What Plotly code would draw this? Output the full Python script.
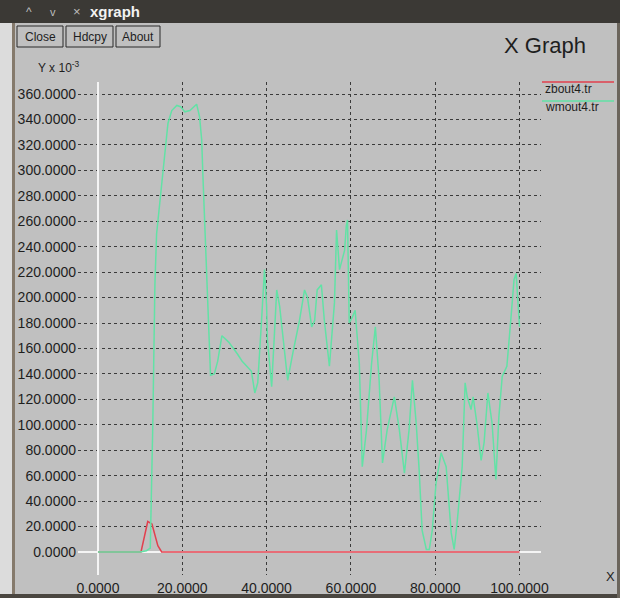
import plotly.graph_objects as go

# ---------------- data ----------------
red_x = [0, 10.0, 10.2, 11.0, 11.8, 12.8, 13.6, 14.2, 15.1, 100]
red_y = [0, 0, 0, 12, 24, 22, 12, 5, 0, 0]

green_x = [0, 10, 11.5, 12.4, 13.0, 13.5, 13.9, 15.4, 16.1, 16.6, 17.5, 18.7, 19.6, 20.6,
           21.8, 23.4, 24.1, 24.6, 24.9, 25.8, 26.7, 27.6, 28.4, 29.4, 31.0, 33.0, 34.2,
           35.3, 36.4, 37.2, 37.9, 38.8, 39.5, 40.0, 40.2, 41.2, 42.4, 43.1, 44.3, 45.0,
           46.2, 47.8, 49.0, 49.7, 50.7, 51.4, 52.0, 53.0, 53.7, 54.9, 56.1, 56.6, 57.3,
           58.5, 58.9, 59.2, 59.6, 60.4, 61.0, 62.0, 62.7, 63.7, 64.9, 65.8, 66.7, 67.5,
           68.6, 70.3, 71.5, 72.7, 73.8, 74.6, 75.5, 76.2, 76.9, 77.9, 78.6, 79.3, 80.2,
           81.4, 82.6, 83.8, 84.5, 85.2, 86.4, 87.1, 87.6, 88.5, 89.0, 89.9, 90.9, 91.6,
           92.5, 93.5, 94.4, 95.1, 95.9, 97.0, 98.0, 98.7, 99.2, 100.0]
green_y = [0, 0, 1, 3, 100, 210, 250, 300, 324, 337, 347, 351, 350, 346,
           347, 352, 342, 324, 295, 219, 139, 140, 150, 170, 165, 156, 150,
           146, 142, 125, 133, 182, 222, 193, 167, 130, 206, 193, 156, 135,
           156, 182, 206, 200, 177, 182, 206, 210, 182, 146, 196, 253, 222,
           237, 256, 261, 180, 185, 190, 148, 67, 96, 148, 177, 135, 70,
           96, 122, 96, 62, 96, 135, 101, 64, 17, 2, 2, 17, 54,
           78, 67, 15, 2, 23, 67, 133, 122, 112, 122, 101, 72, 86,
           125, 101, 57, 106, 138, 146, 185, 214, 219, 177]

y_ticks = [0, 20, 40, 60, 80, 100, 120, 140, 160, 180, 200, 220, 240, 260, 280, 300, 320, 340, 360]
y_labels = ["%.4f" % v for v in y_ticks]
x_ticks = [0, 20, 40, 60, 80, 100]
x_labels = ["%.4f" % v for v in x_ticks]

series_names = ["zbout4.tr", "wmout4.tr"]

# ---------------- styling ----------------
W, H = 620, 598
BG = "#c0c0c0"
TXT = "#1e1e1e"
RED = "#e2404e"
GREEN = "#62e2a6"
FONT = "Liberation Sans, Arial, sans-serif"


def px(x):
    return x / W


def py(y):
    return 1 - y / H


fig = go.Figure()
fig.add_trace(go.Scatter(x=red_x, y=red_y, mode="lines", name=series_names[0],
                         line=dict(color=RED, width=1.5), showlegend=False))
fig.add_trace(go.Scatter(x=green_x, y=green_y, mode="lines", name=series_names[1],
                         line=dict(color=GREEN, width=1.5), showlegend=False))

# plot area in pixels: x 78..541, y 82..575 ; x=0 at px 98, 100 at 519.5; y=0 at 552, 360 at 94
xs = (519.5 - 98) / 100.0
ys = (552 - 94) / 360.0
x_range = [(78 - 98) / xs, (541 - 98) / xs]
y_range = [(552 - 575) / ys, (552 - 82) / ys]

fig.update_layout(
    width=W, height=H, autosize=False,
    margin=dict(l=0, r=0, t=0, b=0),
    paper_bgcolor=BG, plot_bgcolor=BG,
    font=dict(family=FONT, color=TXT, size=14),
    xaxis=dict(domain=[px(78), px(541)], range=x_range, tickvals=x_ticks, ticktext=x_labels,
               showgrid=True, gridcolor="#3a3a3a", griddash="dot", gridwidth=1,
               zeroline=True, zerolinecolor="#f4f4f4", zerolinewidth=2,
               showline=False, ticks="", ticklabelstandoff=3, automargin=False,
               tickfont=dict(family=FONT, size=14, color=TXT)),
    yaxis=dict(domain=[py(575), py(82)], range=y_range, tickvals=y_ticks, ticktext=y_labels,
               showgrid=True, gridcolor="#3a3a3a", griddash="dot", gridwidth=1,
               zeroline=True, zerolinecolor="#f4f4f4", zerolinewidth=2,
               showline=False, ticks="", ticklabelstandoff=1, automargin=False,
               tickfont=dict(family=FONT, size=14, color=TXT)),
)

shapes = []
# title bar
shapes.append(dict(type="rect", xref="paper", yref="paper", x0=0, x1=1, y0=py(23), y1=1,
                   fillcolor="#3b3935", line=dict(width=0), layer="above"))
# left light strip and border
shapes.append(dict(type="rect", xref="paper", yref="paper", x0=0, x1=px(12), y0=0, y1=py(23),
                   fillcolor="#dcdcdc", line=dict(width=0), layer="below"))
shapes.append(dict(type="rect", xref="paper", yref="paper", x0=px(12), x1=px(15), y0=0, y1=py(23),
                   fillcolor="#857a6c", line=dict(width=0), layer="below"))
# bottom border
shapes.append(dict(type="rect", xref="paper", yref="paper", x0=0, x1=1, y0=0, y1=py(594),
                   fillcolor="#4a4640", line=dict(width=0), layer="below"))
# right border
shapes.append(dict(type="rect", xref="paper", yref="paper", x0=px(617), x1=1, y0=0, y1=py(23),
                   fillcolor="#6b655c", line=dict(width=0), layer="below"))
# buttons
for (x0, x1) in [(17, 63), (66, 113), (116, 160)]:
    shapes.append(dict(type="rect", xref="paper", yref="paper", x0=px(x0), x1=px(x1),
                       y0=py(47), y1=py(26), fillcolor=BG,
                       line=dict(color="#2a2a2a", width=1), layer="above"))
# legend samples
shapes.append(dict(type="line", xref="paper", yref="paper", x0=px(542), x1=px(614),
                   y0=py(82), y1=py(82), line=dict(color=RED, width=1.5)))
shapes.append(dict(type="line", xref="paper", yref="paper", x0=px(542), x1=px(614),
                   y0=py(101), y1=py(101), line=dict(color=GREEN, width=1.5)))
fig.update_layout(shapes=shapes)

ann = []


def label(x, y, text, size=13, color=TXT, xanchor="left", family=FONT):
    ann.append(dict(xref="paper", yref="paper", x=px(x), y=py(y), text=text, showarrow=False,
                    xanchor=xanchor, yanchor="middle", font=dict(size=size, color=color, family=family)))


label(24, 12, "^", 12, "#bdbdbd")
label(48, 12, "v", 11, "#bdbdbd")
label(71, 12, "×", 13, "#bdbdbd")
label(88, 12, "<b>xgraph</b>", 15, "#f2f2f2")
label(40, 37, "Close", 12, TXT, "center")
label(89.5, 37, "Hdcpy", 12, TXT, "center")
label(138, 37, "About", 12, TXT, "center")
label(588, 46, "X Graph", 22, TXT, "right")
label(36, 67, "Y x 10<sup>-3</sup>", 12, TXT)
label(543, 89, series_names[0], 12, TXT)
label(543, 107, series_names[1], 12, TXT)
label(610, 576, "X", 13, TXT, "center")
fig.update_layout(annotations=ann)

fig.write_html("out.html", config={"displayModeBar": False},
               post_script="document.body.style.margin='0';document.body.style.overflow='hidden';")
